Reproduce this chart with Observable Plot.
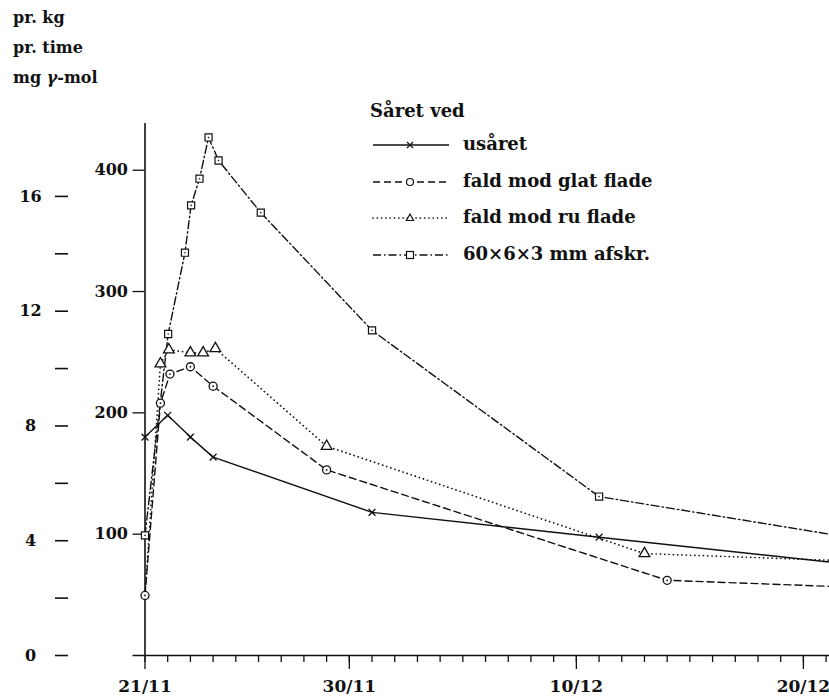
<!DOCTYPE html>
<html><head><meta charset="utf-8">
<script src="https://cdn.jsdelivr.net/npm/d3@7"></script>
<script src="https://cdn.jsdelivr.net/npm/@observablehq/plot@0.6"></script>
<style>
body{margin:0;background:#fff;}
#wrap{position:relative;width:829px;height:700px;font-family:"DejaVu Serif",serif;font-weight:bold;color:#111;overflow:hidden;}
.t{position:absolute;font-size:16px;white-space:nowrap;line-height:20px;}
.lg{position:absolute;font-size:18px;white-space:nowrap;line-height:22px;}
.sw{position:absolute;}
</style></head><body><div id="wrap"></div>
<script>
// ---- data ----
const xTickDays = [0, 9, 19, 29];
const xTickLabels = ["21/11", "30/11", "10/12", "20/12"];
const yInnerTicks = [100, 200, 300, 400];
const yOuterTicks = [0, 4, 8, 12, 16];
const yOuterMinor = [2, 6, 10, 14];
const outerFactor = 23.65;
const titleLines = ["pr. kg", "pr. time", "mg γ-mol"];
const legendTitle = "Såret ved";
const seriesNames = ["usåret", "fald mod glat flade", "fald mod ru flade", "60×6×3 mm afskr."];

const usaretDay = [0, 1, 2, 3, 10, 20, 30.15];
const usaretVal = [180, 198, 180, 163.5, 118, 97.5, 77];
const glatDay = [0, 0.68, 1.1, 2, 3, 8, 23, 30.15];
const glatVal = [49.5, 208, 232, 238, 222, 153, 62, 57];
const ruDay = [0, 0.68, 1.05, 2, 2.56, 3.1, 8, 22, 30.15];
const ruVal = [49.5, 240.5, 252, 249.5, 249.5, 253, 172.5, 84, 78.5];
const afskrDay = [0, 1.02, 1.76, 2.03, 2.4, 2.8, 3.24, 5.1, 10, 20, 30.15];
const afskrVal = [99, 265, 332, 371, 393, 427, 408, 365, 268, 131, 100];

// ---- build table ----
const xMax = 30.15;
function rowsOf(name, days, vals) {
  return days.map((d, i) => ({series: name, day: d, value: vals[i], edge: d >= xMax}));
}
const usaret = rowsOf(seriesNames[0], usaretDay, usaretVal);
const glat = rowsOf(seriesNames[1], glatDay, glatVal);
const ru = rowsOf(seriesNames[2], ruDay, ruVal);
const afskr = rowsOf(seriesNames[3], afskrDay, afskrVal);

const ink = "#111";
const styles = {
  usaret: {stroke: ink, strokeWidth: 1.4},
  glat: {stroke: ink, strokeWidth: 1.4, strokeDasharray: "7,4"},
  ru: {stroke: ink, strokeWidth: 1.7, strokeDasharray: "0.1,4.2", strokeLinecap: "round"},
  afskr: {stroke: ink, strokeWidth: 1.4, strokeDasharray: "8,3,1.5,3"}
};

const K = outerFactor;
const outerAll = [...yOuterTicks, ...yOuterMinor];

const chart = Plot.plot({
  width: 829, height: 700,
  marginLeft: 144.5, marginRight: 0, marginTop: 123, marginBottom: 45,
  x: {domain: [0, xMax], axis: null},
  y: {domain: [0, 438.5], axis: null},
  style: "font-family:'DejaVu Serif',serif;font-weight:bold;background:white;color:#111;overflow:visible;",
  marks: [
    Plot.ruleX([0], {stroke: ink, strokeWidth: 1.6}),
    Plot.ruleY([0], {stroke: ink, strokeWidth: 1.6, insetLeft: -12}),
    Plot.axisX(d3.range(0, 31), {anchor: "bottom", label: null, tickSize: 7, tickFormat: () => "", stroke: ink, strokeWidth: 1.3}),
    Plot.axisX(xTickDays, {anchor: "bottom", label: null, tickSize: 14, tickPadding: 10, stroke: ink, strokeWidth: 1.3, fontSize: 17,
      tickFormat: d => xTickLabels[xTickDays.indexOf(d)]}),
    Plot.axisY(yInnerTicks, {anchor: "left", label: null, tickSize: 12, tickPadding: 5, stroke: ink, strokeWidth: 1.3, fontSize: 16}),
    Plot.axisY(outerAll.map(d => d * K), {anchor: "left", label: null, tickSize: 13, tickPadding: 25, dx: -76.5, textAnchor: "middle",
      stroke: ink, strokeWidth: 1.6, fontSize: 16,
      tickFormat: d => { const u = Math.round(d / K); return yOuterTicks.includes(u) ? String(u) : ""; }}),
    // lines
    Plot.line(usaret, {x: "day", y: "value", ...styles.usaret}),
    Plot.line(glat, {x: "day", y: "value", ...styles.glat}),
    Plot.line(ru, {x: "day", y: "value", ...styles.ru}),
    Plot.line(afskr, {x: "day", y: "value", ...styles.afskr}),
    // markers
    Plot.dot(usaret.filter(d => !d.edge), {x: "day", y: "value", symbol: "times", r: 3.2, stroke: ink, strokeWidth: 1.3}),
    Plot.dot(glat.filter(d => !d.edge), {x: "day", y: "value", symbol: "circle", r: 4, fill: "white", stroke: ink, strokeWidth: 1.3}),
    Plot.dot(glat.filter(d => !d.edge), {x: "day", y: "value", r: 0.9, fill: ink}),
    Plot.dot(ru.filter(d => !d.edge && d.day > 0), {x: "day", y: "value", symbol: "triangle", r: 4, fill: "white", stroke: ink, strokeWidth: 1.3}),
    Plot.dot(afskr.filter(d => !d.edge), {x: "day", y: "value", symbol: "square", r: 4, fill: "white", stroke: ink, strokeWidth: 1.2}),
    Plot.dot(afskr.filter(d => !d.edge), {x: "day", y: "value", r: 0.8, fill: ink})
  ]
});

const wrap = document.getElementById("wrap");
wrap.appendChild(chart);
chart.style.position = "absolute";
chart.style.left = "0px";
chart.style.top = "0px";

// title lines
const titleY = [8, 38, 68];
titleLines.forEach((t, i) => {
  const el = document.createElement("div");
  el.className = "t";
  el.style.left = "13px";
  el.style.top = titleY[i] + "px";
  el.innerHTML = t.replace("γ", "<i>γ</i>");
  wrap.appendChild(el);
});

// legend
const lt = document.createElement("div");
lt.className = "lg";
lt.style.left = "370px"; lt.style.top = "100px";
lt.textContent = legendTitle;
wrap.appendChild(lt);

const rowY = [145, 182, 218, 255];
const keys = ["usaret", "glat", "ru", "afskr"];
const ns = "http://www.w3.org/2000/svg";
keys.forEach((k, i) => {
  const svg = document.createElementNS(ns, "svg");
  svg.setAttribute("width", 78); svg.setAttribute("height", 16);
  svg.setAttribute("class", "sw");
  svg.style.left = "372px"; svg.style.top = (rowY[i] - 8) + "px";
  const line = document.createElementNS(ns, "line");
  line.setAttribute("x1", 1); line.setAttribute("x2", 77); line.setAttribute("y1", 8); line.setAttribute("y2", 8);
  const s = styles[k];
  line.setAttribute("stroke", s.stroke); line.setAttribute("stroke-width", s.strokeWidth);
  if (s.strokeDasharray) line.setAttribute("stroke-dasharray", s.strokeDasharray);
  if (s.strokeLinecap) line.setAttribute("stroke-linecap", s.strokeLinecap);
  svg.appendChild(line);
  const g = document.createElementNS(ns, "g");
  g.setAttribute("transform", "translate(38,8)");
  g.setAttribute("fill", "white"); g.setAttribute("stroke", ink); g.setAttribute("stroke-width", 1.2);
  let shape;
  if (k === "usaret") { shape = document.createElementNS(ns, "path"); shape.setAttribute("d", "M-3,-3L3,3M3,-3L-3,3"); }
  if (k === "glat") { shape = document.createElementNS(ns, "circle"); shape.setAttribute("r", 3.5); }
  if (k === "ru") { shape = document.createElementNS(ns, "path"); shape.setAttribute("d", "M0,-4L3.6,2.5L-3.6,2.5Z"); }
  if (k === "afskr") { shape = document.createElementNS(ns, "rect"); shape.setAttribute("x", -3.5); shape.setAttribute("y", -3.5); shape.setAttribute("width", 7); shape.setAttribute("height", 7); }
  g.appendChild(shape);
  svg.appendChild(g);
  wrap.appendChild(svg);
  const el = document.createElement("div");
  el.className = "lg";
  el.style.left = "463px"; el.style.top = (rowY[i] - 12) + "px";
  el.textContent = seriesNames[i];
  wrap.appendChild(el);
});
</script></body></html>
